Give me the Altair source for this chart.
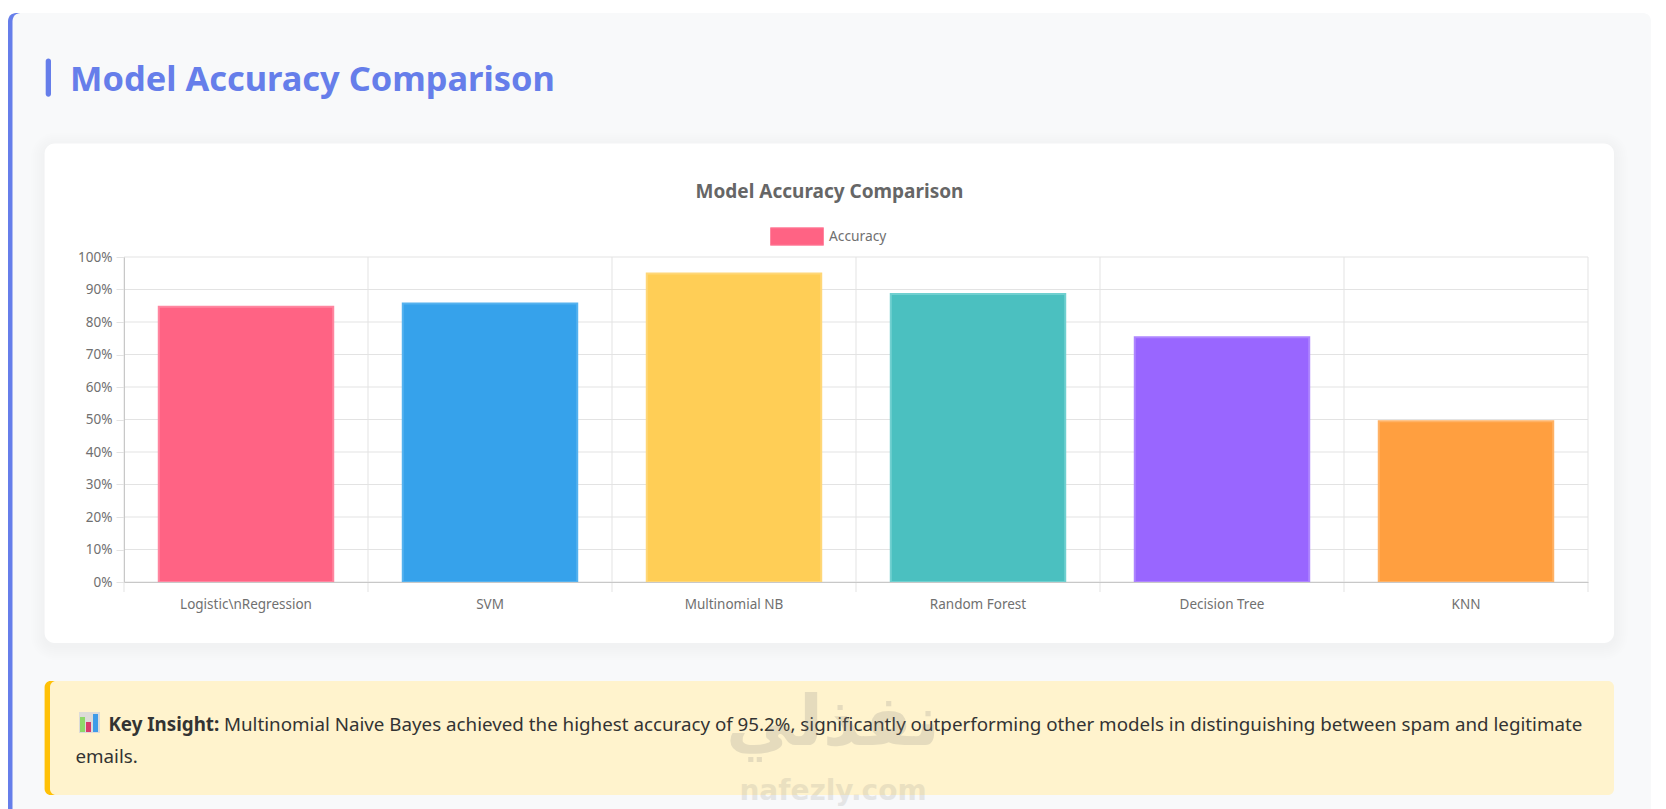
import altair as alt
import pandas as pd

models = ["Logistic\\nRegression", "SVM", "Multinomial NB", "Random Forest", "Decision Tree", "KNN"]
accuracy = [84.7, 85.7, 94.9, 88.6, 75.3, 49.5]
fills = ["#FF6384", "#36A2EB", "#FFCE56", "#4BC0C0", "#9966FF", "#FF9F40"]
strokes = ["#FF86A0", "#55B2EF", "#FFD778", "#70D0D0", "#AE85FF", "#FFB266"]
y_ticks = list(range(0, 101, 10))

HEADING = "Model Accuracy Comparison"
BLUE = "#667eea"
FONT = "Noto Sans"

# plot area position on the page
PX, PY = 124, 257
PW, PH = 1464, 325
W, H = 1650, 801
PAD = dict(left=PX - 8, top=PY - 8, right=W - (PX - 8) - PW, bottom=H - (PY - 8) - PH)


def box(x0, y0, x1, y1, color, opacity=1.0, radius=0):
    return alt.Chart(alt.Data(values=[{"a": 1}])).mark_rect(
        color=color, opacity=opacity, cornerRadius=radius
    ).encode(
        x=alt.value(x0 - PX), x2=alt.value(x1 - PX),
        y=alt.value(y0 - PY), y2=alt.value(y1 - PY),
    )


def label(x, y, s, size, color, weight="normal", align="left", font=FONT, opacity=1.0):
    return alt.Chart(alt.Data(values=[{"t": s}])).mark_text(
        font=font, fontSize=size, color=color, fontWeight=weight,
        align=align, baseline="alphabetic", opacity=opacity,
    ).encode(x=alt.value(x - PX), y=alt.value(y - PY), text="t:N")


x_band = alt.Scale(domain=models, paddingInner=0.285, paddingOuter=0.1425)
y_lin = alt.Scale(domain=[0, 100])
df = pd.DataFrame({"model": models, "accuracy": accuracy})
df_y = pd.DataFrame({"v": y_ticks})
df_x = pd.DataFrame({"model": models})
GRID = "#e3e3e3"

x_axis = alt.Axis(
    labelAngle=0, labelFontSize=13.5, labelColor="#707070", labelFont=FONT,
    ticks=False, domainColor="#c8c8c8", labelPadding=15, grid=False, zindex=1, labelLimit=300,
)
y_axis = alt.Axis(
    values=y_ticks, labelExpr="datum.value + '%'", labelFontSize=13.5,
    labelColor="#707070", labelFont=FONT, tickSize=8, tickColor=GRID,
    domainColor="#c8c8c8", labelPadding=4, grid=False, zindex=1,
)
x_enc = alt.X("model:N", scale=x_band, sort=None, title=None, axis=x_axis)

chrome = [
    box(8, 13, 30, 820, BLUE, radius=8),
    box(12.5, 13, 1651, 820, "#f8f9fa", radius=8),
    box(45.7, 58.4, 51, 96.7, BLUE, radius=3),
    label(70, 91, HEADING, 34.4, BLUE, "bold"),
]
for i in range(7, 0, -1):
    chrome.append(box(44.6 - 2 * i, 143.4 - 2 * i + 3, 1614 + 2 * i, 643 + 2 * i + 3, "#000000", 0.004, 10 + 2 * i))
chrome += [
    box(44.6, 143.4, 1614, 643, "#ffffff", radius=10),
    label(829.5, 198, HEADING, 19, "#666666", "bold", "center"),
    box(44.6, 681, 60, 795, "#ffc107", radius=6),
    box(50, 681, 1614, 795, "#fff3cd", radius=6),
    box(79, 712, 100, 733, "#d4d4dc", 0.8),
    box(80, 717, 85, 732, "#8ed86a"),
    box(86, 722, 91, 732, "#d83a6a"),
    box(93, 714, 98, 732, "#3f9be8"),
    label(108.4, 731, "Key Insight:", 18.77, "#333333", "bold"),
    label(224, 731, "Multinomial Naive Bayes achieved the highest accuracy of 95.2%, significantly outperforming other models in distinguishing between spam and legitimate", 18.77, "#333333"),
    label(75.4, 763, "emails.", 18.77, "#333333"),
]

h_grid = alt.Chart(df_y).mark_rule(color=GRID, strokeWidth=1).encode(
    y=alt.Y("v:Q", scale=y_lin, title=None, axis=y_axis)
)
v_grid = alt.Chart(df_x).mark_rule(color=GRID, strokeWidth=1, xOffset=-PW / 12).encode(
    x=x_enc, y=alt.value(0), y2=alt.value(PH + 10)
)
v_grid_end = alt.Chart(df_x.tail(1)).mark_rule(color=GRID, strokeWidth=1, xOffset=PW / 12).encode(
    x=x_enc, y=alt.value(0), y2=alt.value(PH + 10)
)

bars = alt.Chart(df).mark_bar(strokeWidth=2).encode(
    x=x_enc,
    y=alt.Y("accuracy:Q", scale=y_lin, title=None, axis=y_axis),
    fill=alt.Fill("model:N", scale=alt.Scale(domain=models, range=fills), legend=None),
    stroke=alt.Stroke("model:N", scale=alt.Scale(domain=models, range=strokes), legend=None),
)

legend_layer = alt.Chart(alt.Data(values=[{"s": "Accuracy"}])).transform_filter("false").mark_point(filled=True).encode(
    color=alt.Color(
        "s:N",
        scale=alt.Scale(domain=["Accuracy"], range=["#FF6384"]),
        legend=alt.Legend(
            title=None, orient="none", legendX=770 - PX, legendY=236 - 26.5 - PY,
            symbolType="M-1,-0.33H1V0.33H-1Z", symbolSize=2809, symbolStrokeColor="#FF86A0",
            symbolStrokeWidth=1, symbolOpacity=1, labelFontSize=13.8, labelColor="#707070",
            labelFont=FONT, labelOffset=5, padding=0,
        ),
    )
)

watermark = [
    label(833, 745, "نفذلي", 70, "#808080", "bold", "center", "DejaVu Sans", 0.2),
    label(833, 800, "nafezly.com", 28, "#808080", "bold", "center", "DejaVu Sans", 0.16),
]

chart = alt.layer(
    *chrome, h_grid, v_grid, v_grid_end, bars, legend_layer, *watermark
).resolve_scale(fill="independent", stroke="independent", color="independent").properties(
    width=PW, height=PH,
    autosize=alt.AutoSizeParams(type="none"),
    padding=PAD,
    background="#ffffff",
).configure_view(stroke=None)

chart.save("out.html", embed_options={"renderer": "svg", "actions": False})
